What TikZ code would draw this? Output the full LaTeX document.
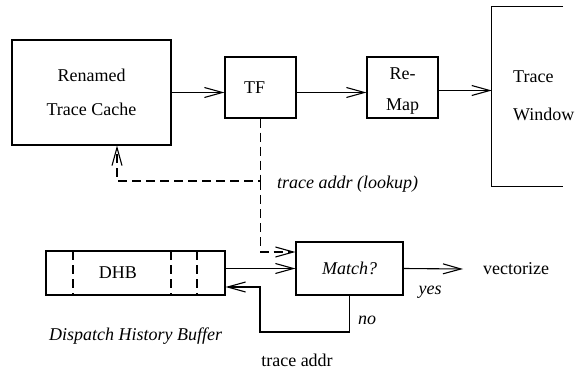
\documentclass[tikz,border=0pt]{standalone}
\usepackage{fontspec}
\setmainfont{Liberation Serif}
\usetikzlibrary{arrows.meta}
\begin{document}
\begin{tikzpicture}[x=1pt,y=-1pt,
  every node/.style={font=\fontsize{18}{20}\selectfont},
  box/.style={draw,line width=1.1pt,inner sep=0pt,align=center},
  lbl/.style={inner sep=0pt,align=center},
  ilbl/.style={inner sep=0pt,font=\fontsize{18}{20}\selectfont\itshape},
  line/.style={line width=1.1pt},
  flow/.style={line,-{Straight Barb[length=18pt,width=10pt,line width=1.1pt]}},
  dflow/.style={flow,dash pattern=on 9pt off 5pt},
  divider/.style={line width=1.1pt,dash pattern=on 9pt off 5pt}]
\useasboundingbox (0,0) rectangle (585,371);

% upper row: cache, trace fetch, remap, window
\node[box,minimum width=159pt,minimum height=105pt] (rtc) at (91.5,92.5)
  {Renamed\\[14pt]Trace Cache};
\node[box,minimum width=71pt,minimum height=61pt] (tf) at (260.5,87.5) {TF\hspace*{12pt}};
\node[box,minimum width=71pt,minimum height=61pt] (remap) at (402.5,87.5) {};
\node[lbl] (remaptext) at (402.5,91.5) {Re-\\[11pt]Map};
\node[minimum width=71pt,minimum height=179pt,inner sep=0pt] (tw) at (527.5,96.5) {};
\draw[line] (tw.north east) -- (tw.north west) -- (tw.south west) -- (tw.south east);
\node[lbl,anchor=west,align=left] (twtext) at (513,96) {Trace\\[18pt]Window};

\draw[flow] (rtc.east) -- (rtc -| tf.west);
\draw[flow] (tf.east |- rtc) -- (remap.west |- rtc);
\draw[flow] (remap.east |- 0,90.5) -- (tw.west |- 0,90.5);

% lookup path
\coordinate (j) at (260.5,181);
\draw[dflow] (tf.south) -- (j) -| ([xshift=25.5pt]rtc.south);
\node[ilbl,anchor=west] (lookup) at (277,184) {trace addr (lookup)};

% lower row: history buffer and match
\node[box,minimum width=179pt,minimum height=44pt] (dhb) at (135.5,273) {};
\draw[divider] (73,251) -- (73,295);
\draw[divider] (171,251) -- (171,295);
\draw[divider] (197,251) -- (197,295);
\node[lbl] (dhbtext) at (118,273) {DHB};
\node[ilbl] (dhbname) at (135.5,336) {Dispatch History Buffer};

\node[box,minimum width=107pt,minimum height=53pt,font=\fontsize{18}{20}\selectfont\itshape]
  (match) at (349.5,268.5) {Match?};
\draw[dflow] (j) |- ([yshift=16.5pt]match.west);
\draw[flow] (dhb.east |- match) -- (match.west);

\node[lbl,anchor=west] (vec) at (483,269) {vectorize};
\draw[flow] (match.east) -- ([xshift=-20pt]vec.west);
\node[ilbl] (yes) at (430,292) {yes};

\coordinate (loop) at (260,332);
\draw[flow] (match.south) |- (loop) |- ([yshift=-14pt]dhb.east);
\node[ilbl] (no) at (367,320) {no};
\node[lbl] (addr) at (297,360) {trace addr};
\end{tikzpicture}
\end{document}
